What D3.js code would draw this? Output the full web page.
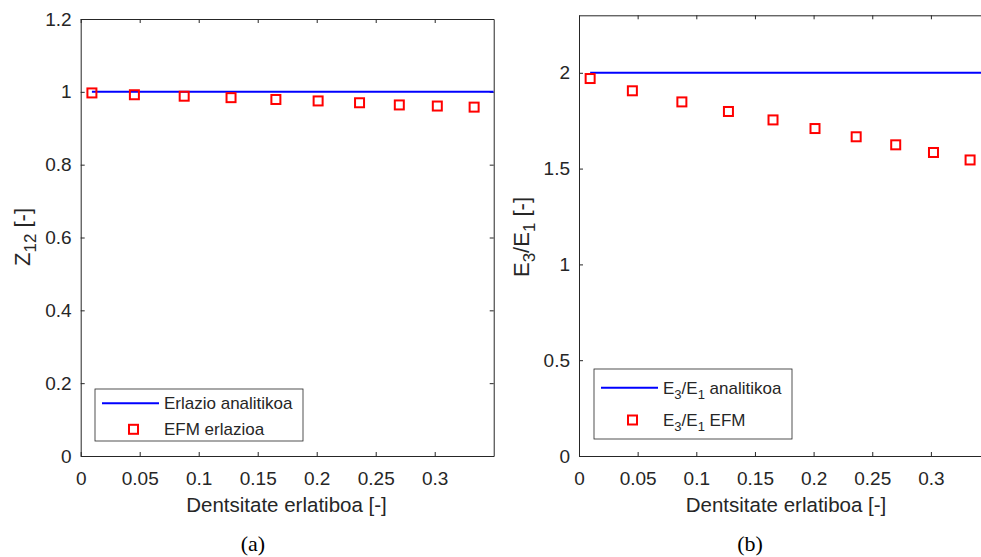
<!DOCTYPE html>
<html>
<head>
<meta charset="utf-8">
<script src="https://cdn.jsdelivr.net/npm/d3@7"></script>
<style>
  body { margin: 0; background: #fff; }
  svg { display: block; font-family: "Liberation Sans", Arial, sans-serif; }
</style>
</head>
<body>
<svg id="chart" width="981" height="557"></svg>
<script>
// relative density (x) for the EFM points
const density = [0.0095, 0.0455, 0.0877, 0.1274, 0.1654, 0.2012, 0.2363, 0.2700, 0.3022, 0.3334];
const z12Efm = [0.997, 0.992, 0.988, 0.984, 0.979, 0.975, 0.970, 0.964, 0.961, 0.958];
const e3e1Efm = [1.970, 1.906, 1.848, 1.798, 1.754, 1.709, 1.666, 1.624, 1.584, 1.545];
const analyticX = [0.0095, 0.35];
const z12Analytic = [1, 1];
const e3e1Analytic = [2, 2];
const xTicks = [0, 0.05, 0.1, 0.15, 0.2, 0.25, 0.3];
const xTickLabels = ["0", "0.05", "0.1", "0.15", "0.2", "0.25", "0.3"];
const yTicksA = [0, 0.2, 0.4, 0.6, 0.8, 1, 1.2];
const yTicksB = [0, 0.5, 1, 1.5, 2];

const ink = "#262626";
const svg = d3.select("#chart");
const font = "'Liberation Sans', Arial, sans-serif";

function panel(opt) {
  const g = svg.append("g").attr("transform", `translate(${opt.left},${opt.top})`);
  const x = d3.scaleLinear().domain([0, 0.35]).range([0, opt.width]);
  const y = d3.scaleLinear().domain([0, opt.ymax]).range([opt.height, 0]);

  const fmtX = (d) => xTickLabels[xTicks.indexOf(d)];

  // bottom + top axes, ticks inward
  g.append("g").attr("transform", `translate(0,${opt.height})`)
    .call(d3.axisBottom(x).tickValues(xTicks).tickFormat(fmtX).tickSizeInner(-4).tickSizeOuter(0).tickPadding(16));
  g.append("g")
    .call(d3.axisTop(x).tickValues(xTicks).tickFormat("").tickSizeInner(-4).tickSizeOuter(0));
  g.append("g")
    .call(d3.axisLeft(y).tickValues(opt.yTicks).tickFormat(d3.format("~g")).tickSizeInner(-4).tickSizeOuter(0).tickPadding(9));
  g.append("g").attr("transform", `translate(${opt.width},0)`)
    .call(d3.axisRight(y).tickValues(opt.yTicks).tickFormat("").tickSizeInner(-4).tickSizeOuter(0));

  g.selectAll(".domain").attr("stroke", ink);
  g.selectAll(".tick line").attr("stroke", ink);
  g.selectAll(".tick text").attr("fill", ink)
    .attr("font-family", font).attr("font-size", 19);

  const clipId = "clip" + opt.id;
  g.append("clipPath").attr("id", clipId)
    .append("rect").attr("width", opt.width).attr("height", opt.height);

  const line = d3.line().x((d) => x(d[0])).y((d) => y(d[1]));
  g.append("path")
    .datum(analyticX.map((v, i) => [v, opt.analytic[i]]))
    .attr("clip-path", `url(#${clipId})`)
    .attr("d", line)
    .attr("fill", "none")
    .attr("stroke", "#0000ff")
    .attr("stroke-width", 2);

  g.selectAll(".pt")
    .data(density.map((v, i) => [v, opt.efm[i]]))
    .enter().append("rect")
    .attr("x", (d) => x(d[0]) - 4.5)
    .attr("y", (d) => y(d[1]) - 4.5)
    .attr("width", 9)
    .attr("height", 9)
    .attr("fill", "none")
    .attr("stroke", "#ff0000")
    .attr("stroke-width", 2);

  // x label
  g.append("text")
    .attr("x", opt.labelX - opt.left)
    .attr("y", 456 - opt.top + 56)
    .attr("text-anchor", "middle")
    .attr("fill", ink)
    .attr("font-size", 20.5)
    .text("Dentsitate erlatiboa [-]");

  // y label
  const yl = g.append("text")
    .attr("transform", `translate(${opt.ylabX - opt.left},${237 - opt.top}) rotate(-90)`)
    .attr("text-anchor", "middle")
    .attr("fill", ink)
    .attr("font-size", 22);
  opt.ylabel(yl, 17);

  // legend
  const lg = svg.append("g").attr("transform", `translate(${opt.legend.x},${opt.legend.y})`);
  lg.append("rect")
    .attr("width", opt.legend.w).attr("height", opt.legend.h)
    .attr("fill", "#fff").attr("stroke", ink).attr("stroke-width", 0.8);
  lg.append("line")
    .attr("x1", 7).attr("x2", 64)
    .attr("y1", opt.legend.row1).attr("y2", opt.legend.row1)
    .attr("stroke", "#0000ff").attr("stroke-width", 2);
  lg.append("rect")
    .attr("x", 34).attr("y", opt.legend.row2 - 4.5)
    .attr("width", 9).attr("height", 9)
    .attr("fill", "none").attr("stroke", "#ff0000").attr("stroke-width", 2);
  opt.legend.text1(lg.append("text").attr("x", 69).attr("y", opt.legend.row1 + 6)
    .attr("fill", ink).attr("font-size", 17), 13);
  opt.legend.text2(lg.append("text").attr("x", 69).attr("y", opt.legend.row2 + 6)
    .attr("fill", ink).attr("font-size", 17), 13);

  // caption
  svg.append("text")
    .attr("x", opt.capX).attr("y", 551)
    .attr("text-anchor", "middle")
    .attr("font-family", "'Liberation Serif', 'Times New Roman', serif")
    .attr("font-size", 22)
    .attr("fill", "#000")
    .text(opt.caption);
}

function sub(t, base, s, rest, size) {
  t.append("tspan").text(base);
  t.append("tspan").attr("baseline-shift", "-35%").attr("font-size", size).text(s);
  if (rest) t.append("tspan").text(rest);
}

panel({
  id: "a", left: 80.7, top: 19, width: 411.6 * 0.35 / 0.3488, height: 437,
  ymax: 1.2, yTicks: yTicksA, efm: z12Efm, analytic: z12Analytic,
  labelX: 286.5, ylabX: 30, capX: 253, caption: "(a)",
  ylabel: (t, s) => { sub(t, "Z", "12", "", s); t.append("tspan").text(" [-]"); },
  legend: {
    x: 95, y: 389, w: 208, h: 52, row1: 14.3, row2: 40.3,
    text1: (t) => t.text("Erlazio analitikoa"),
    text2: (t) => t.text("EFM erlazioa")
  }
});

panel({
  id: "b", left: 579, top: 15.3, width: 1173 * 0.35, height: 440.7,
  ymax: 2.3, yTicks: yTicksB, efm: e3e1Efm, analytic: e3e1Analytic,
  labelX: 786, ylabX: 529, capX: 750, caption: "(b)",
  ylabel: (t, s) => { sub(t, "E", "3", "/", s); sub(t, "E", "1", "", s); t.append("tspan").text(" [-]"); },
  legend: {
    x: 594, y: 369, w: 198, h: 70, row1: 18.7, row2: 51,
    text1: (t, s) => { sub(t, "E", "3", "/", s); sub(t, "E", "1", "", s); t.append("tspan").text(" analitikoa"); },
    text2: (t, s) => { sub(t, "E", "3", "/", s); sub(t, "E", "1", "", s); t.append("tspan").text(" EFM"); }
  }
});
</script>
</body>
</html>
